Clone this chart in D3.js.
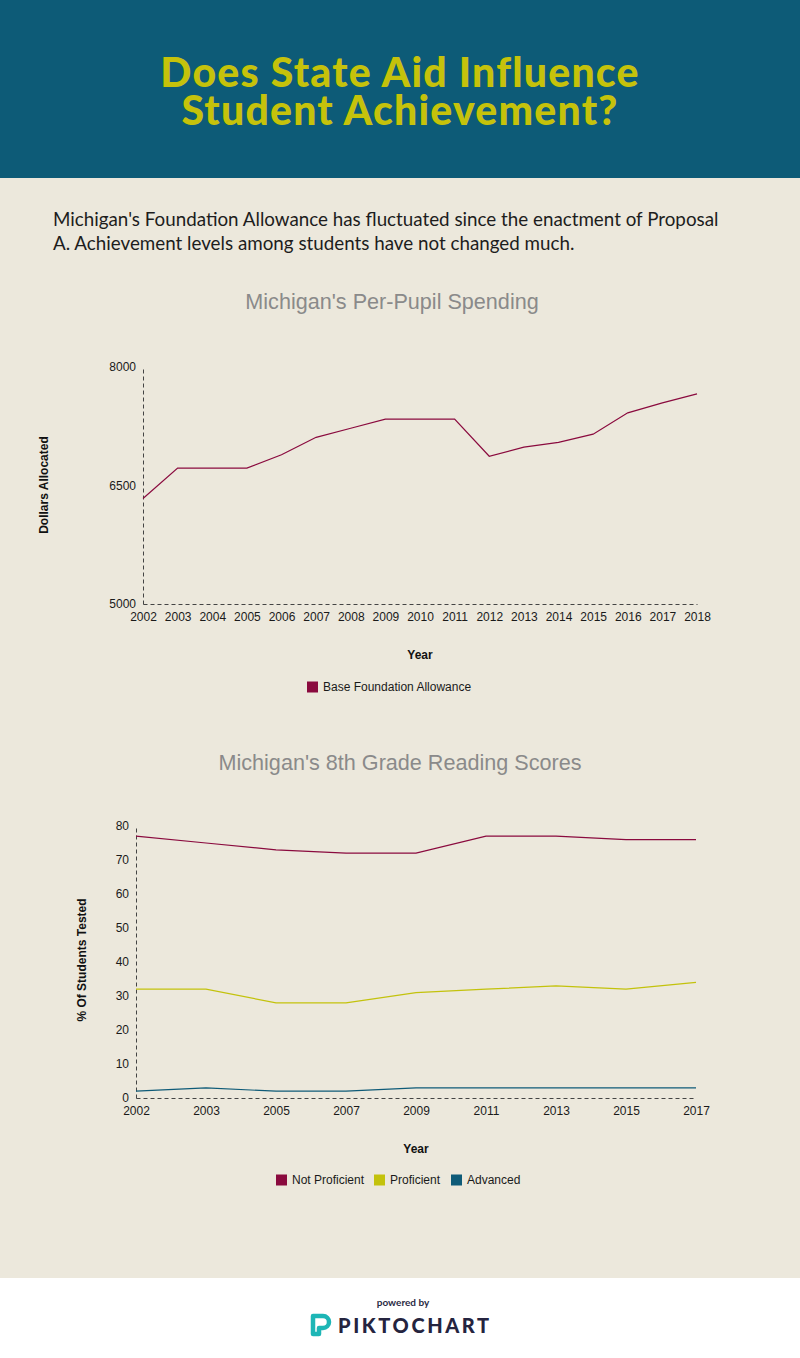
<!DOCTYPE html>
<html>
<head>
<meta charset="utf-8">
<script src="https://cdn.jsdelivr.net/npm/d3@7"></script>
<style>
  html, body { margin: 0; padding: 0; background: #ECE8DC; }
  svg { display: block; }
</style>
</head>
<body>
<svg id="page" width="800" height="1358"></svg>
<script>
// ---------- DATA ----------
const spendYears = ["2002","2003","2004","2005","2006","2007","2008","2009","2010","2011","2012","2013","2014","2015","2016","2017","2018"];
const spendValues = [6335, 6720, 6720, 6720, 6890, 7110, 7225, 7340, 7340, 7340, 6870, 6985, 7045, 7150, 7420, 7545, 7660];
const spendTicks = [5000, 6500, 8000];

const readYears = ["2002","2003","2005","2007","2009","2011","2013","2015","2017"];
const notProficient = [77, 75, 73, 72, 72, 77, 77, 76, 76];
const proficient = [32, 32, 28, 28, 31, 32, 33, 32, 34];
const advanced = [2, 3, 2, 2, 3, 3, 3, 3, 3];
const readTicks = [0, 10, 20, 30, 40, 50, 60, 70, 80];
const readSeriesNames = ["Not Proficient", "Proficient", "Advanced"];

// ---------- STYLE ----------
const C_MAROON = "#8A0A3E";
const C_YELLOW = "#C3C20C";
const C_TEAL = "#0F5B78";
const colors = [C_MAROON, C_YELLOW, C_TEAL];

const svg = d3.select("#page");

// background
svg.append("rect").attr("x",0).attr("y",0).attr("width",800).attr("height",1358).attr("fill","#ECE8DC");
// header
svg.append("rect").attr("x",0).attr("y",0).attr("width",800).attr("height",178).attr("fill","#0D5B77");
const titleStyle = s => s.attr("text-anchor","middle")
  .attr("font-family","Lato, 'DejaVu Sans', sans-serif").attr("font-weight",900)
  .attr("font-size",41).attr("letter-spacing",1.2).attr("fill","#C5C20B");
svg.append("text").call(titleStyle).attr("x",400).attr("y",87).text("Does State Aid Influence");
svg.append("text").call(titleStyle).attr("x",400).attr("y",125).text("Student Achievement?");

// intro text
const intro = svg.append("text").attr("font-family","Lato, sans-serif").attr("font-size",18.8).attr("fill","#1d1d1d");
intro.append("tspan").attr("x",53).attr("y",226).text("Michigan's Foundation Allowance has fluctuated since the enactment of Proposal");
intro.append("tspan").attr("x",53).attr("y",250).text("A. Achievement levels among students have not changed much.");

// footer
svg.append("rect").attr("x",0).attr("y",1278).attr("width",800).attr("height",80).attr("fill","#FFFFFF");
svg.append("text").attr("x",403).attr("y",1306).attr("text-anchor","middle")
  .attr("font-family","Lato, sans-serif").attr("font-weight",700).attr("font-size",10).attr("fill","#2A2A44").text("powered by");
// logo icon
const logo = svg.append("g").attr("fill","none").attr("stroke","#1DB6B6").attr("stroke-width",4.5).attr("stroke-linejoin","round");
logo.append("path").attr("d","M313,1334 L313,1316 L323,1316 A6,6 0 0 1 323,1328 L319,1328 L319,1334 Z");
svg.append("text").attr("x",338).attr("y",1333).attr("font-family","Lato, 'DejaVu Sans', sans-serif")
  .attr("font-weight",900).attr("font-size",20).attr("letter-spacing",2.6).attr("fill","#25243F").text("PIKTOCHART");

const FONT = "'Liberation Sans', Arial, sans-serif";

function drawChart(opts) {
  const g = svg.append("g");
  const x = d3.scalePoint().domain(opts.cats).range([opts.x0, opts.x1]);
  const y = d3.scaleLinear().domain(opts.yDomain).range([opts.yBottom, opts.yTop]);

  // title
  g.append("text").attr("x",opts.titleX).attr("y",opts.titleY).attr("text-anchor","middle")
    .attr("font-family",FONT).attr("font-size",21.6).attr("fill","#8A8A8A").text(opts.title);

  // y axis
  const ya = g.append("g").attr("transform",`translate(${opts.x0},0)`)
    .call(d3.axisLeft(y).tickValues(opts.yTicks).tickSize(0).tickPadding(7).tickFormat(d3.format("d")));
  ya.select(".domain").attr("stroke","#444").attr("stroke-dasharray","4,3");
  ya.selectAll("text").attr("font-family",FONT).attr("font-size",12).attr("fill","#1a1a1a");

  // x axis
  const xa = g.append("g").attr("transform",`translate(0,${opts.yBottom})`)
    .call(d3.axisBottom(x).tickSize(0).tickPadding(8));
  xa.select(".domain").attr("stroke","#444").attr("stroke-dasharray","4,3");
  xa.selectAll("text").attr("font-family",FONT).attr("font-size",12).attr("fill","#1a1a1a");

  // axis titles
  g.append("text").attr("x",opts.xTitleX).attr("y",opts.xTitleY).attr("text-anchor","middle")
    .attr("font-family",FONT).attr("font-weight",700).attr("font-size",12).attr("fill","#111").text("Year");
  g.append("text").attr("transform",`translate(${opts.yTitleX},${opts.yTitleY}) rotate(-90)`)
    .attr("text-anchor","middle").attr("font-family",FONT).attr("font-weight",700).attr("font-size",12)
    .attr("fill","#111").text(opts.yTitle);

  // lines
  const line = d3.line().x((d,i)=>x(opts.cats[i])).y(d=>y(d));
  opts.series.forEach((s,k)=>{
    g.append("path").datum(s).attr("d",line).attr("fill","none")
      .attr("stroke",opts.colors[k]).attr("stroke-width",1.2);
  });

  // legend
  opts.legend.forEach((l,k)=>{
    g.append("rect").attr("x",l.x).attr("y",opts.legendY-5.5).attr("width",11).attr("height",11).attr("fill",opts.colors[k]);
    g.append("text").attr("x",l.x+16).attr("y",opts.legendY+4).attr("font-family",FONT).attr("font-size",12)
      .attr("fill","#1a1a1a").text(l.name);
  });
}

drawChart({
  title: "Michigan's Per-Pupil Spending", titleX: 392, titleY: 309,
  cats: spendYears, x0: 143, x1: 697,
  yDomain: [5000, 8000], yBottom: 604, yTop: 367, yTicks: spendTicks,
  series: [spendValues], colors: [C_MAROON],
  xTitleX: 420, xTitleY: 659, yTitle: "Dollars Allocated", yTitleX: 48, yTitleY: 485,
  legendY: 687, legend: [{x:307, name:"Base Foundation Allowance"}]
});

drawChart({
  title: "Michigan's 8th Grade Reading Scores", titleX: 400, titleY: 770,
  cats: readYears, x0: 136, x1: 696,
  yDomain: [0, 80], yBottom: 1098, yTop: 826, yTicks: readTicks,
  series: [notProficient, proficient, advanced], colors: colors,
  xTitleX: 416, xTitleY: 1153, yTitle: "% Of Students Tested", yTitleX: 86, yTitleY: 960,
  legendY: 1180, legend: readSeriesNames.map((n,i)=>({x:[276,374,451][i], name:n}))
});
</script>
</body>
</html>
